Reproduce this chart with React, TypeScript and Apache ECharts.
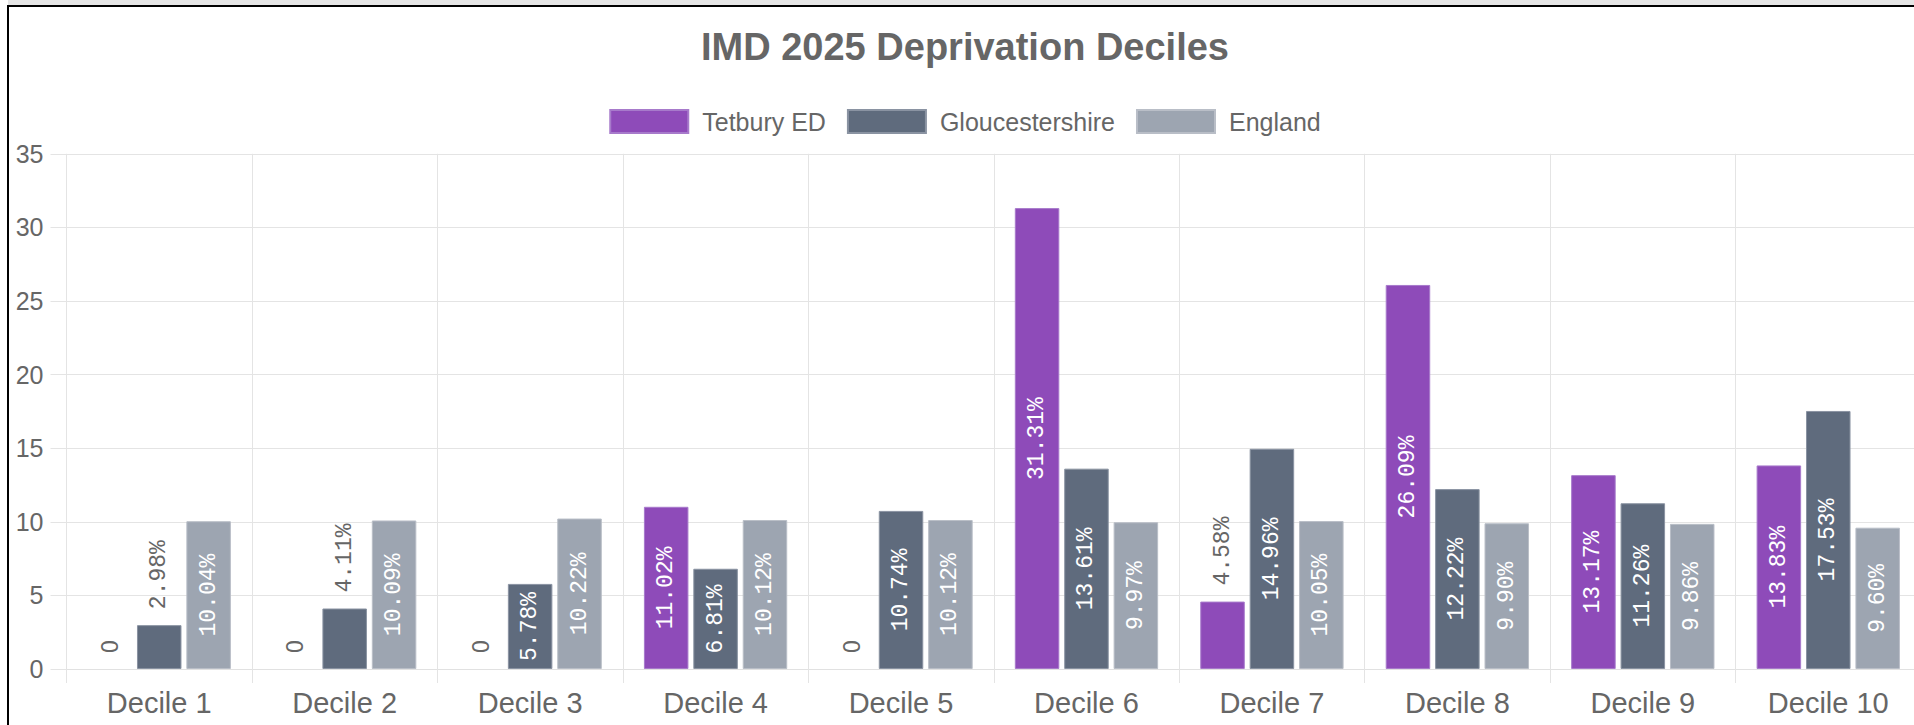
import React, { useEffect, useRef } from "react";
import * as echarts from "echarts";

const categories = [
  "Decile 1", "Decile 2", "Decile 3", "Decile 4", "Decile 5",
  "Decile 6", "Decile 7", "Decile 8", "Decile 9", "Decile 10",
];
const seriesNames = ["Tetbury ED", "Gloucestershire", "England"];
const tetbury = [0, 0, 0, 11.02, 0, 31.31, 4.58, 26.09, 13.17, 13.83];
const gloucestershire = [2.98, 4.11, 5.78, 6.81, 10.74, 13.61, 14.96, 12.22, 11.26, 17.53];
const england = [10.04, 10.09, 10.22, 10.12, 10.12, 9.97, 10.05, 9.9, 9.86, 9.6];
const colors = ["#8e4bb9", "#5f6b7d", "#9da5b1"];
const borders = ["#a77acb", "#8a93a2", "#b9bec7"];
const yMin = 0;
const yMax = 35;
const yInterval = 5;

const FONT = "'Liberation Sans', Arial, sans-serif";
const LABEL_FONT = "'Liberation Mono', 'DejaVu Sans Mono', monospace";

const fmt = (v: number) => (v === 0 ? "0" : v.toFixed(2) + "%");

function buildData(values: number[]) {
  return values.map((v) => {
    const inside = v >= 5.5;
    return {
      value: v,
      itemStyle: v === 0 ? { borderWidth: 0 } : undefined,
      label: inside
        ? {
            show: true,
            position: "inside",
            rotate: 90,
            align: "center",
            verticalAlign: "middle",
            color: "#ffffff",
          }
        : {
            show: true,
            position: "top",
            rotate: 90,
            align: "left",
            verticalAlign: "middle",
            distance: 16,
            color: "#666666",
            fontFamily: v === 0 ? FONT : LABEL_FONT,
          },
    };
  });
}

export default function App() {
  const ref = useRef<HTMLDivElement>(null);

  useEffect(() => {
    if (!ref.current) return;
    const chart = echarts.init(ref.current, null, { renderer: "svg" });
    const allValues = [tetbury, gloucestershire, england];
    const option: any = {
      animation: false,
      color: colors,
      title: {
        text: "IMD 2025 Deprivation Deciles",
        left: "center",
        top: 16,
        textStyle: {
          fontFamily: FONT,
          fontSize: 38,
          fontWeight: "bold",
          color: "#666666",
        },
      },
      legend: {
        top: 97,
        left: "center",
        icon: "rect",
        itemWidth: 78,
        itemHeight: 23,
        itemGap: 21,
        textStyle: {
          fontFamily: FONT,
          fontSize: 25,
          color: "#666666",
          padding: [0, 0, 0, 9],
        },
        data: seriesNames,
      },
      grid: {
        left: 57.5,
        right: 0,
        top: 146.8,
        bottom: 56,
        containLabel: false,
      },
      xAxis: {
        type: "category",
        data: categories,
        boundaryGap: true,
        axisLine: { show: true, lineStyle: { color: "#e1e1e1", width: 1 } },
        axisTick: {
          show: true,
          length: 14,
          interval: 0,
          lineStyle: { color: "#e4e4e4" },
        },
        splitLine: {
          show: true,
          interval: 0,
          lineStyle: { color: "#e4e4e4" },
        },
        axisLabel: {
          fontFamily: FONT,
          fontSize: 29,
          color: "#666666",
          margin: 19,
          interval: 0,
        },
      },
      yAxis: {
        type: "value",
        min: yMin,
        max: yMax,
        interval: yInterval,
        axisLine: { show: false },
        axisTick: { show: true, length: 16, lineStyle: { color: "#e4e4e4" } },
        splitLine: { show: true, lineStyle: { color: "#e4e4e4" } },
        axisLabel: {
          fontFamily: FONT,
          fontSize: 25,
          color: "#666666",
          margin: 23,
        },
      },
      series: seriesNames.map((name, i) => ({
        name,
        type: "bar",
        barWidth: "24%",
        barGap: "11%",
        itemStyle: {
          color: colors[i],
          borderColor: borders[i],
          borderWidth: 1,
        },
        label: {
          show: true,
          fontFamily: LABEL_FONT,
          fontSize: 23,
          formatter: (p: any) => fmt(p.value),
        },
        data: buildData(allValues[i]),
      })),
    };
    chart.setOption(option);
    return () => chart.dispose();
  }, []);

  return (
    <div
      style={{
        position: "fixed",
        left: 0,
        top: 0,
        width: 1914,
        height: 725,
        overflow: "hidden",
        background: "#ffffff",
      }}
    >
      <div
        style={{
          position: "absolute",
          left: 8,
          top: 0,
          right: 0,
          height: 5,
          background: "#e5e5e5",
        }}
      />
      <div
        style={{
          position: "absolute",
          left: 7,
          top: 5,
          width: 1940,
          height: 740,
          borderLeft: "2px solid #000",
          borderTop: "2px solid #000",
        }}
      >
        <div
          ref={ref}
          style={{ position: "absolute", left: 0, top: 0, width: 1912, height: 718 }}
        />
      </div>
    </div>
  );
}
